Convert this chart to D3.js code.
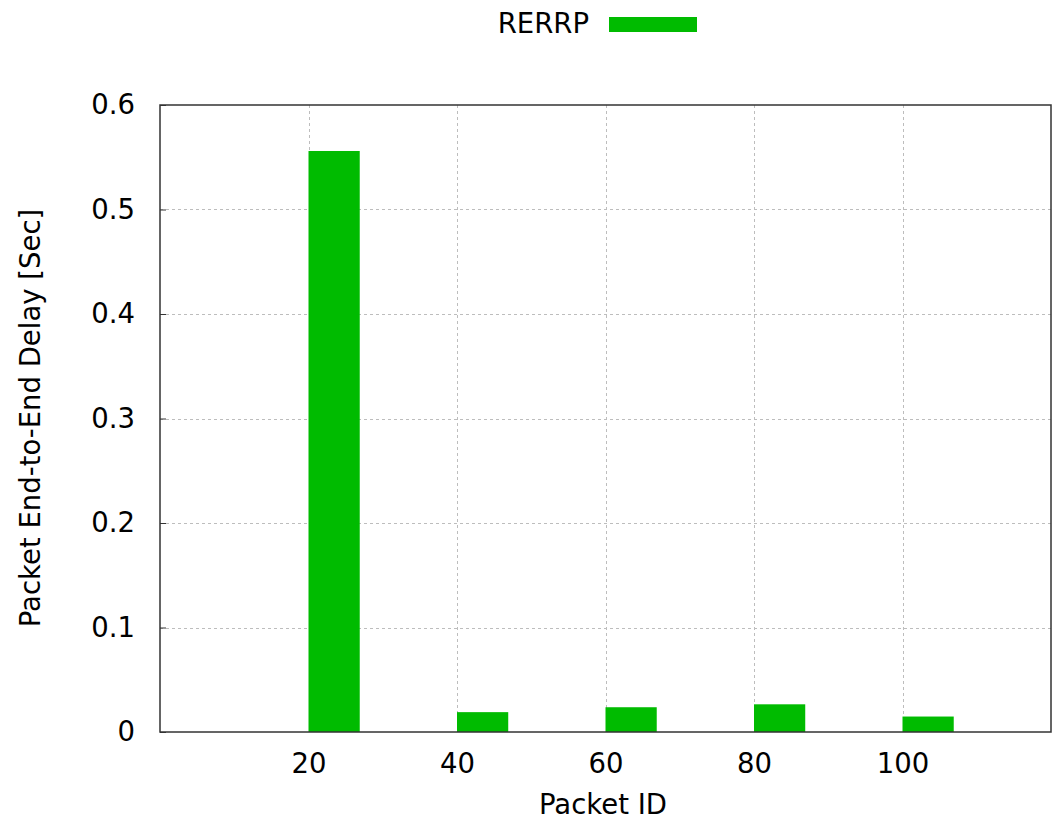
<!DOCTYPE html>
<html>
<head>
<meta charset="utf-8">
<script src="https://cdn.jsdelivr.net/npm/d3@7"></script>
<style>
  html, body { margin: 0; padding: 0; background: #fff; }
  svg { display: block; font-family: "DejaVu Sans", sans-serif; }
</style>
</head>
<body>
<svg id="chart" width="1053" height="825"></svg>
<script>
// Packet end-to-end delay per packet ID
const packetIds = [20, 40, 60, 80, 100];
const delays = [0.556, 0.019, 0.0237, 0.0265, 0.0148];
const seriesName = "RERRP";
const yTicks = [0, 0.1, 0.2, 0.3, 0.4, 0.5, 0.6];
const xTicks = [20, 40, 60, 80, 100];

const W = 1053, H = 825;
const margin = { left: 160, right: 2, top: 105, bottom: 93 };
const barWidth = 6.9; // in packet-ID units
const green = "#00bb00";
const fontSize = 27.5;

const svg = d3.select("#chart");

const x = d3.scaleLinear().domain([0, 120]).range([margin.left, W - margin.right]);
const y = d3.scaleLinear().domain([0, 0.6]).range([H - margin.bottom, margin.top]);

// grid
const grid = svg.append("g").attr("stroke", "#bdbdbd").attr("stroke-width", 1).attr("stroke-dasharray", "3,3");
grid.selectAll("line.h").data(yTicks.slice(1, -1)).join("line")
  .attr("x1", x(0)).attr("x2", x(120))
  .attr("y1", d => Math.round(y(d)) + 0.5).attr("y2", d => Math.round(y(d)) + 0.5);
grid.selectAll("line.v").data(xTicks).join("line")
  .attr("y1", y(0)).attr("y2", y(0.6))
  .attr("x1", d => Math.round(x(d)) + 0.5).attr("x2", d => Math.round(x(d)) + 0.5);

// bars
svg.append("g").selectAll("rect").data(packetIds).join("rect")
  .attr("x", d => x(d))
  .attr("width", d => x(d + barWidth) - x(d))
  .attr("y", (d, i) => y(delays[i]))
  .attr("height", (d, i) => y(0) - y(delays[i]))
  .attr("fill", green);

// axes
const yAxis = d3.axisLeft(y).tickValues(yTicks).tickFormat(d => d === 0 ? "0" : d3.format(".1f")(d))
  .tickSizeInner(-6).tickSizeOuter(0).tickPadding(26);
const gy = svg.append("g").attr("transform", `translate(${margin.left},0)`).call(yAxis);

const xAxis = d3.axisBottom(x).tickValues(xTicks).tickSizeInner(0).tickSizeOuter(0).tickPadding(21);
const gx = svg.append("g").attr("transform", `translate(0,${H - margin.bottom})`).call(xAxis);

[gx, gy].forEach(g => {
  g.select(".domain").remove();
  g.selectAll("text").attr("font-size", fontSize).attr("font-family", "DejaVu Sans, sans-serif").attr("fill", "#000");
  g.selectAll("line").attr("stroke", "#333");
});
gy.selectAll("text").attr("x", -25);

// frame
svg.append("rect")
  .attr("x", x(0)).attr("y", y(0.6))
  .attr("width", x(120) - x(0)).attr("height", y(0) - y(0.6))
  .attr("fill", "none").attr("stroke", "#333").attr("stroke-width", 1.5);

// axis titles
svg.append("text")
  .attr("x", 603).attr("y", 814)
  .attr("text-anchor", "middle").attr("font-size", fontSize)
  .text("Packet ID");
svg.append("text")
  .attr("transform", `translate(40,${418}) rotate(-90)`)
  .attr("text-anchor", "middle").attr("font-size", fontSize)
  .text("Packet End-to-End Delay [Sec]");

// legend
svg.append("text")
  .attr("x", 589).attr("y", 33)
  .attr("text-anchor", "end").attr("font-size", fontSize)
  .text(seriesName);
svg.append("rect")
  .attr("x", 609).attr("y", 17).attr("width", 88).attr("height", 15)
  .attr("fill", green);
</script>
</body>
</html>
